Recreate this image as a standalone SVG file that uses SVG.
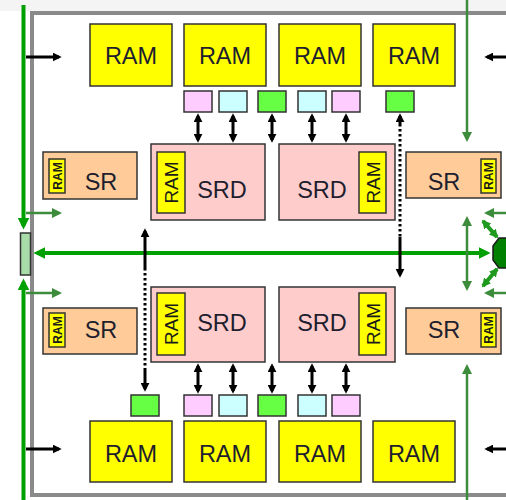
<svg xmlns="http://www.w3.org/2000/svg" width="506" height="500" viewBox="0 0 506 500">
<defs>
<style>
.ram{fill:#ffff00;stroke:#333;stroke-width:1.5}
.srd{fill:#ffcccc;stroke:#333;stroke-width:1.5}
.sr{fill:#ffcc99;stroke:#333;stroke-width:1.5}
.pk{fill:#ffccff;stroke:#333;stroke-width:1.5}
.cy{fill:#ccffff;stroke:#333;stroke-width:1.5}
.gn{fill:#66ff44;stroke:#333;stroke-width:1.5}
.t{font-family:"Liberation Sans",Arial,sans-serif;font-size:23.5px;fill:#1e1e2e;text-anchor:middle}
.tv{font-family:"Liberation Sans",Arial,sans-serif;font-size:19px;fill:#1a1a1a;text-anchor:middle}
.ts{font-family:"Liberation Sans",Arial,sans-serif;font-size:12px;font-weight:bold;fill:#1a1a1a;text-anchor:middle}
.blk{stroke:#000;stroke-width:3;fill:none}
.dot{stroke:#000;stroke-width:3;fill:none;stroke-dasharray:2.5 2.5}
.ga{stroke:#3c8c3c;stroke-width:2.5;fill:none}
.gd{stroke:#1f9a1f;stroke-width:4;fill:none}
.gb{stroke:#00a000;stroke-width:4;fill:none}
</style>
<marker id="ab" viewBox="0 0 10 10" refX="7" refY="5" markerWidth="9" markerHeight="9" markerUnits="userSpaceOnUse" orient="auto-start-reverse"><path d="M0,0 L10,5 L0,10 z" fill="#000"/></marker>
<marker id="ag" viewBox="0 0 10 10" refX="7" refY="5" markerWidth="10" markerHeight="10" markerUnits="userSpaceOnUse" orient="auto-start-reverse"><path d="M0,0 L10,5 L0,10 z" fill="#3c8c3c"/></marker>
<marker id="ad" viewBox="0 0 10 10" refX="8" refY="5" markerWidth="9" markerHeight="11" markerUnits="userSpaceOnUse" orient="auto-start-reverse"><path d="M0,0 L10,5 L0,10 z" fill="#1f9a1f"/></marker>
<marker id="am" viewBox="0 0 10 10" refX="7" refY="5" markerWidth="12" markerHeight="12" markerUnits="userSpaceOnUse" orient="auto-start-reverse"><path d="M0,0 L10,5 L0,10 z" fill="#00a000"/></marker>
</defs>
<rect width="506" height="500" fill="#ffffff"/>
<rect x="0" y="0" width="506" height="11" fill="#f4f4f4"/>
<g id="frame">
<path d="M506,13 H32 V495 H506" fill="none" stroke="#8a8a8a" stroke-width="4"/>
</g>

<g id="connectors">
<!-- left green bus -->
<line x1="23.5" y1="5" x2="23.5" y2="226" class="gb" marker-end="url(#am)"/>
<line x1="23.5" y1="500" x2="23.5" y2="282" class="gb" marker-end="url(#am)"/>
<!-- main horizontal bus -->
<line x1="37" y1="253" x2="487" y2="253" class="gb" marker-start="url(#am)" marker-end="url(#am)"/>
<!-- right green verticals -->
<line x1="467" y1="0" x2="467" y2="139" class="ga" marker-end="url(#ag)"/>
<line x1="467" y1="219" x2="467" y2="288" class="ga" marker-start="url(#ag)" marker-end="url(#ag)"/>
<line x1="467" y1="500" x2="467" y2="367" class="ga" marker-end="url(#ag)"/>
<!-- left green arrows -->
<line x1="26" y1="213" x2="59" y2="213" class="ga" marker-end="url(#ag)"/>
<line x1="26" y1="293" x2="59" y2="293" class="ga" marker-end="url(#ag)"/>
<!-- right green arrows -->
<line x1="506" y1="213" x2="487" y2="213" class="ga" marker-end="url(#ag)"/>
<line x1="506" y1="293" x2="487" y2="293" class="ga" marker-end="url(#ag)"/>
<line x1="483" y1="221" x2="497" y2="237" class="gd" marker-start="url(#ad)" marker-end="url(#ad)"/>
<line x1="483" y1="286" x2="497" y2="269" class="gd" marker-start="url(#ad)" marker-end="url(#ad)"/>
<!-- black side arrows -->
<line x1="26" y1="57" x2="59" y2="57" class="blk" marker-end="url(#ab)"/>
<line x1="26" y1="449" x2="59" y2="449" class="blk" marker-end="url(#ab)"/>
<line x1="506" y1="57" x2="487" y2="57" class="blk" marker-end="url(#ab)"/>
<line x1="506" y1="449" x2="487" y2="449" class="blk" marker-end="url(#ab)"/>
<!-- top double arrows -->
<line x1="198" y1="116" x2="198" y2="140" class="blk" marker-start="url(#ab)" marker-end="url(#ab)"/>
<line x1="233" y1="116" x2="233" y2="140" class="blk" marker-start="url(#ab)" marker-end="url(#ab)"/>
<line x1="272" y1="116" x2="272" y2="140" class="blk" marker-start="url(#ab)" marker-end="url(#ab)"/>
<line x1="312" y1="116" x2="312" y2="140" class="blk" marker-start="url(#ab)" marker-end="url(#ab)"/>
<line x1="346" y1="116" x2="346" y2="140" class="blk" marker-start="url(#ab)" marker-end="url(#ab)"/>
<!-- bottom double arrows -->
<line x1="198" y1="366" x2="198" y2="391" class="blk" marker-start="url(#ab)" marker-end="url(#ab)"/>
<line x1="233" y1="366" x2="233" y2="391" class="blk" marker-start="url(#ab)" marker-end="url(#ab)"/>
<line x1="272" y1="366" x2="272" y2="391" class="blk" marker-start="url(#ab)" marker-end="url(#ab)"/>
<line x1="312" y1="366" x2="312" y2="391" class="blk" marker-start="url(#ab)" marker-end="url(#ab)"/>
<line x1="346" y1="366" x2="346" y2="391" class="blk" marker-start="url(#ab)" marker-end="url(#ab)"/>
<!-- dotted links -->
<line x1="400" y1="124" x2="400" y2="116" class="blk" marker-end="url(#ab)"/>
<line x1="400" y1="124" x2="400" y2="237" class="dot"/>
<line x1="400" y1="237" x2="400" y2="275" class="blk" marker-end="url(#ab)"/>
<line x1="145" y1="268" x2="145" y2="231" class="blk" marker-end="url(#ab)"/>
<line x1="145" y1="268" x2="145" y2="370" class="dot"/>
<line x1="145" y1="370" x2="145" y2="389" class="blk" marker-end="url(#ab)"/>
</g>

<g id="port-left">
<rect x="20.5" y="233" width="10" height="42" fill="#a8dca8" stroke="#333" stroke-width="1.5"/>
</g>
<g id="hub-right">
<polygon points="493,246 499,238 512,238 512,268 499,268 493,260" fill="#008000" stroke="#1a1a1a" stroke-width="1.5"/>
</g>

<g id="ram-t1"><rect class="ram" x="90" y="24" width="82" height="62"/><text class="t" x="131" y="64">RAM</text></g>
<g id="ram-t2"><rect class="ram" x="184" y="24" width="82" height="62"/><text class="t" x="225" y="64">RAM</text></g>
<g id="ram-t3"><rect class="ram" x="279" y="24" width="82" height="62"/><text class="t" x="320" y="64">RAM</text></g>
<g id="ram-t4"><rect class="ram" x="373" y="24" width="82" height="62"/><text class="t" x="414" y="64">RAM</text></g>

<g id="ram-b1"><rect class="ram" x="90" y="421" width="82" height="61"/><text class="t" x="131" y="462">RAM</text></g>
<g id="ram-b2"><rect class="ram" x="184" y="421" width="82" height="61"/><text class="t" x="225" y="462">RAM</text></g>
<g id="ram-b3"><rect class="ram" x="279" y="421" width="82" height="61"/><text class="t" x="320" y="462">RAM</text></g>
<g id="ram-b4"><rect class="ram" x="373" y="421" width="82" height="61"/><text class="t" x="414" y="462">RAM</text></g>

<g id="port-t1"><rect class="pk" x="184" y="91" width="28" height="21"/></g>
<g id="port-t2"><rect class="cy" x="219" y="91" width="28" height="21"/></g>
<g id="port-t3"><rect class="gn" x="258" y="91" width="28" height="21"/></g>
<g id="port-t4"><rect class="cy" x="298" y="91" width="28" height="21"/></g>
<g id="port-t5"><rect class="pk" x="332" y="91" width="28" height="21"/></g>
<g id="port-t6"><rect class="gn" x="386" y="91" width="28" height="21"/></g>

<g id="port-b1"><rect class="gn" x="131" y="395" width="28" height="21"/></g>
<g id="port-b2"><rect class="pk" x="184" y="395" width="28" height="21"/></g>
<g id="port-b3"><rect class="cy" x="219" y="395" width="28" height="21"/></g>
<g id="port-b4"><rect class="gn" x="258" y="395" width="28" height="21"/></g>
<g id="port-b5"><rect class="cy" x="298" y="395" width="28" height="21"/></g>
<g id="port-b6"><rect class="pk" x="332" y="395" width="28" height="21"/></g>

<g id="srd-tl">
<rect class="srd" x="151" y="144" width="114" height="76"/>
<rect class="ram" x="157" y="152" width="28" height="61"/>
<text class="tv" transform="translate(178,182.5) rotate(-90)">RAM</text>
<text class="t" x="222" y="198">SRD</text>
</g>
<g id="srd-tr">
<rect class="srd" x="279" y="144" width="116" height="76"/>
<rect class="ram" x="359" y="152" width="27" height="61"/>
<text class="tv" transform="translate(379.5,182.5) rotate(-90)">RAM</text>
<text class="t" x="322" y="198">SRD</text>
</g>
<g id="srd-bl">
<rect class="srd" x="151" y="287" width="114" height="75"/>
<rect class="ram" x="157" y="293" width="28" height="62"/>
<text class="tv" transform="translate(178,324) rotate(-90)">RAM</text>
<text class="t" x="222" y="331">SRD</text>
</g>
<g id="srd-br">
<rect class="srd" x="279" y="287" width="116" height="75"/>
<rect class="ram" x="359" y="293" width="27" height="62"/>
<text class="tv" transform="translate(379.5,324) rotate(-90)">RAM</text>
<text class="t" x="322" y="331">SRD</text>
</g>

<g id="sr-tl">
<rect class="sr" x="43" y="152" width="94" height="47"/>
<rect class="ram" x="49" y="159" width="16" height="34"/>
<text class="ts" transform="translate(61.5,176) rotate(-90)">RAM</text>
<text class="t" x="101" y="190">SR</text>
</g>
<g id="sr-tr">
<rect class="sr" x="406" y="152" width="95" height="46"/>
<rect class="ram" x="481" y="159" width="15" height="34"/>
<text class="ts" transform="translate(492.5,176) rotate(-90)">RAM</text>
<text class="t" x="444" y="190">SR</text>
</g>
<g id="sr-bl">
<rect class="sr" x="43" y="308" width="94" height="46"/>
<rect class="ram" x="49" y="313" width="16" height="34"/>
<text class="ts" transform="translate(61.5,330) rotate(-90)">RAM</text>
<text class="t" x="101" y="338">SR</text>
</g>
<g id="sr-br">
<rect class="sr" x="406" y="308" width="95" height="46"/>
<rect class="ram" x="481" y="313" width="15" height="34"/>
<text class="ts" transform="translate(492.5,330) rotate(-90)">RAM</text>
<text class="t" x="444" y="338">SR</text>
</g>
</svg>
